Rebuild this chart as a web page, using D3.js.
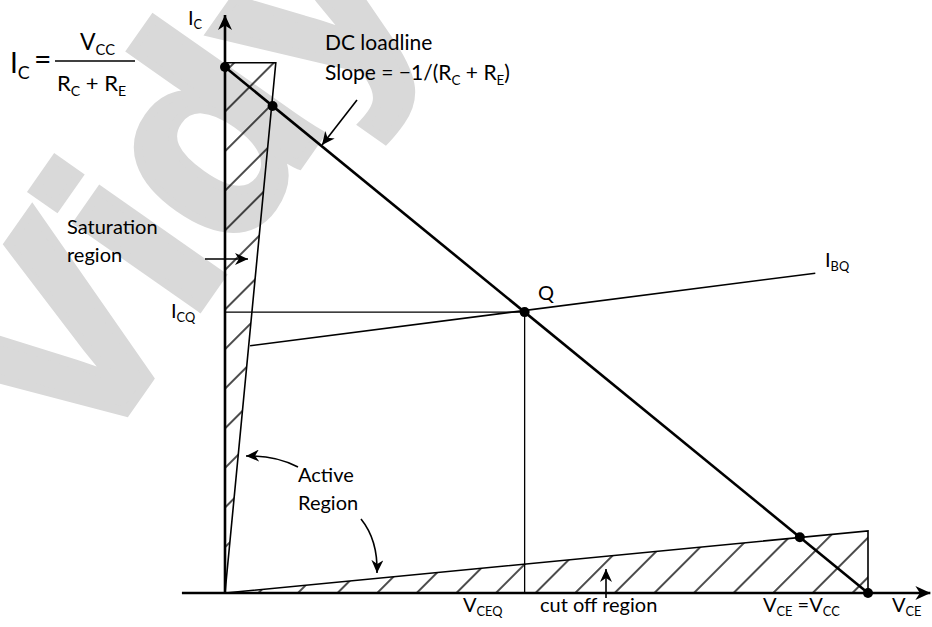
<!DOCTYPE html>
<html><head><meta charset="utf-8">
<script src="https://cdn.jsdelivr.net/npm/d3@7"></script>
<style>
body{margin:0;background:#fff}
svg{display:block}
text{font-family:Lato,"Open Sans",sans-serif;fill:#000}
</style>
</head><body>
<script>
// ---- data (diagram units: V_CE on x, I_C on y; V_CC = 10, I_C(sat) = 10) ----
const xDomain = [0, 10];
const yDomain = [0, 10];
const loadline = [[0, 10], [10, 0]];
const qPoint = [4.66, 5.34];
const loadlineDots = [[0, 10], [0.74, 9.26], [4.66, 5.34], [8.94, 1.06], [10, 0]];
const saturationRegion = [[0, 0], [0, 10.08], [0.79, 10.08]];
const cutoffRegion = [[0, 0], [10, 1.18], [10, 0]];
const ibqLine = [[0.39, 4.70], [9.18, 6.08]];
const xAxisExtent = [-0.67, 10.97];
const yAxisExtent = [0, 10.99];
const watermarkText = "Vidyalankar";

const W = 932, H = 627;
const x = d3.scaleLinear().domain(xDomain).range([225, 868]);
const y = d3.scaleLinear().domain(yDomain).range([593, 67]);
const line = d3.line().x(d => x(d[0])).y(d => y(d[1]));

const svg = d3.select("body").append("svg").attr("width", W).attr("height", H);
const defs = svg.append("defs");

// hatch pattern
const pat = defs.append("pattern").attr("id", "hatch").attr("patternUnits", "userSpaceOnUse")
  .attr("width", 28).attr("height", 28).attr("patternTransform", "rotate(45)");
pat.append("line").attr("x1", 14).attr("y1", 0).attr("x2", 14).attr("y2", 28)
  .attr("stroke", "#000").attr("stroke-width", 1.4);

function marker(id, len, half) {
  defs.append("marker").attr("id", id).attr("markerUnits", "userSpaceOnUse")
    .attr("viewBox", `0 ${-half} ${len} ${2 * half}`).attr("refX", len).attr("refY", 0)
    .attr("markerWidth", len).attr("markerHeight", 2 * half).attr("orient", "auto")
    .append("path").attr("d", `M0,${-half}L${len},0L0,${half}L${len * 0.3},0Z`).attr("fill", "#000");
}
marker("axisArrow", 15, 7);
marker("arr", 13, 6);

// watermark
svg.append("text").text(watermarkText)
  .attr("transform", "translate(84,472) rotate(-55)")
  .style("font-family", "'Liberation Sans',Arial,sans-serif").style("font-weight", "bold")
  .style("font-size", "280px").style("fill", "#d9d9d9")
  .style("stroke", "#d9d9d9").style("stroke-width", "9px").style("stroke-linejoin", "miter");

// regions
svg.append("path").datum(saturationRegion).attr("d", d => line(d) + "Z")
  .attr("fill", "url(#hatch)").attr("stroke", "#000").attr("stroke-width", 1.6);
svg.append("path").datum(cutoffRegion).attr("d", d => line(d) + "Z")
  .attr("fill", "url(#hatch)").attr("stroke", "#000").attr("stroke-width", 1.6);

// I_CQ and V_CEQ guides
svg.append("path").datum([[0, qPoint[1]], qPoint, [qPoint[0], 0]]).attr("d", line)
  .attr("fill", "none").attr("stroke", "#000").attr("stroke-width", 1.3);

// I_BQ line
svg.append("path").datum(ibqLine).attr("d", line)
  .attr("fill", "none").attr("stroke", "#000").attr("stroke-width", 1.6);

// axes
svg.append("line").attr("x1", x(0)).attr("y1", y(yAxisExtent[0])).attr("x2", x(0)).attr("y2", y(yAxisExtent[1]))
  .attr("stroke", "#000").attr("stroke-width", 2.6).attr("marker-end", "url(#axisArrow)");
svg.append("line").attr("x1", x(xAxisExtent[0])).attr("y1", y(0)).attr("x2", x(xAxisExtent[1])).attr("y2", y(0))
  .attr("stroke", "#000").attr("stroke-width", 2.6).attr("marker-end", "url(#axisArrow)");

// load line
svg.append("path").datum(loadline).attr("d", line)
  .attr("fill", "none").attr("stroke", "#000").attr("stroke-width", 2.6);
svg.selectAll("circle.dot").data(loadlineDots).join("circle").attr("class", "dot")
  .attr("cx", d => x(d[0])).attr("cy", d => y(d[1])).attr("r", 5).attr("fill", "#000");

// annotation arrows
const ann = svg.append("g").attr("fill", "none").attr("stroke", "#000").attr("stroke-width", 1.6)
  .attr("marker-end", "url(#arr)");
ann.append("path").attr("d", "M357,100L322,145");
ann.append("path").attr("d", "M205,259L248,259");
ann.append("path").attr("d", "M298,467Q275,455 246,456");
ann.append("path").attr("d", "M361,519Q378,540 377,573");
ann.append("path").attr("d", "M606,598L606,569");

// labels with subscripts
function label(px, py, size, parts, anchor) {
  const t = svg.append("text").attr("x", px).attr("y", py).style("font-size", size + "px");
  if (anchor) t.attr("text-anchor", anchor);
  let sub = false;
  parts.forEach(p => {
    const isSub = Array.isArray(p);
    const s = isSub ? p[0] : p;
    const ts = t.append("tspan").text(s);
    if (isSub && !sub) ts.attr("dy", size * 0.22);
    if (!isSub && sub) ts.attr("dy", -size * 0.22);
    if (isSub) ts.style("font-size", (size * 0.64) + "px");
    sub = isSub;
  });
  return t;
}

// formula
label(10, 73, 28, ["I", ["C"]]);
label(34, 70, 30, ["="]);
svg.append("line").attr("x1", 55).attr("x2", 135).attr("y1", 61).attr("y2", 61).attr("stroke", "#000").attr("stroke-width", 1.3);
label(80, 50, 23, ["V", ["CC"]]);
label(57, 91, 22, ["R", ["C"], " + R", ["E"]]);

label(188, 25, 20, ["I", ["C"]]);
label(325, 50, 21, ["DC loadline"]);
label(325, 80, 21, ["Slope = \u22121/(R", ["C"], " + R", ["E"], ")"]);
label(67, 234, 20, ["Saturation"]);
label(67, 262, 20, ["region"]);
label(171, 318, 20, ["I", ["CQ"]]);
label(538, 300, 20, ["Q"]);
label(825, 267, 20, ["I", ["BQ"]]);
label(298, 482, 20, ["Active"]);
label(298, 510, 20, ["Region"]);
label(463, 612, 20, ["V", ["CEQ"]]);
label(540, 612, 20, ["cut off region"]);
label(763, 612, 20, ["V", ["CE"], " =V", ["CC"]]);
label(892, 612, 20, ["V", ["CE"]]);
</script>
</body></html>
